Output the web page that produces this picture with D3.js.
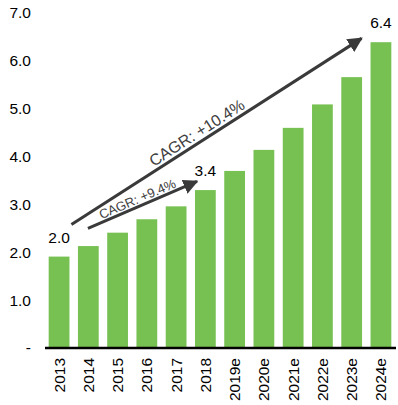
<!DOCTYPE html>
<html>
<head>
<meta charset="utf-8">
<script src="https://cdn.jsdelivr.net/npm/d3@7"></script>
<style>
  body { margin: 0; background: #fff; }
  text { font-family: "Liberation Sans", Arial, sans-serif; }
</style>
</head>
<body>
<div id="chart"></div>
<script>
// Data
const years = ["2013", "2014", "2015", "2016", "2017", "2018", "2019e", "2020e", "2021e", "2022e", "2023e", "2024e"];
const values = [1.91, 2.13, 2.41, 2.69, 2.96, 3.30, 3.70, 4.14, 4.60, 5.09, 5.66, 6.39];
const yTicks = [0, 1, 2, 3, 4, 5, 6, 7];
const valueLabels = [
    { year: "2013", text: "2.0" },
    { year: "2018", text: "3.4" },
    { year: "2024e", text: "6.4" }
];
const cagrArrows = [
    { from: "2013", fromVal: 2.58, to: "2024e", toVal: 6.47, text: "CAGR: +10.4%" },
    { from: "2014", fromVal: 2.5, to: "2018", toVal: 3.48, text: "CAGR: +9.4%" }
];

// Layout
const w = 398;
const h = 405;
const p = { left: 44, right: 2, top: 13, bottom: 57 };

const svg = d3.select("#chart")
    .append("svg")
    .attr("width", w)
    .attr("height", h);

// Scales
const xScale = d3.scaleBand()
    .domain(years)
    .range([p.left, w - p.right])
    .paddingInner(0.29)
    .paddingOuter(0.16);
const yScale = d3.scaleLinear()
    .domain([0, 7])
    .range([h - p.bottom, p.top]);

// Bars
svg.selectAll("rect.bar")
    .data(years)
    .enter()
    .append("rect")
    .attr("class", "bar")
    .attr("x", d => xScale(d))
    .attr("y", (d, i) => yScale(values[i]))
    .attr("width", xScale.bandwidth())
    .attr("height", (d, i) => yScale(0) - yScale(values[i]))
    .style("fill", "#77c152");

// Y axis labels
const yAxis = d3.axisLeft(yScale)
    .tickValues(yTicks)
    .tickSize(0)
    .tickPadding(0)
    .tickFormat(d => d === 0 ? "-" : d3.format(".1f")(d));
const gy = svg.append("g")
    .attr("transform", "translate(31,0)")
    .call(yAxis);
gy.select(".domain").remove();
gy.selectAll("text")
    .style("font-size", "15.5px")
    .style("fill", "#000");

// X axis
const xAxis = d3.axisBottom(xScale).tickSize(0).tickPadding(0);
const gx = svg.append("g")
    .attr("transform", "translate(0," + yScale(0) + ")")
    .call(xAxis);
gx.select(".domain").remove();
gx.selectAll("text")
    .attr("transform", "rotate(-90)")
    .attr("text-anchor", "end")
    .attr("x", -10)
    .attr("y", 0)
    .attr("dy", "0.35em")
    .style("font-size", "15.5px")
    .style("fill", "#000");
svg.append("line")
    .attr("x1", 45)
    .attr("x2", w - 2)
    .attr("y1", yScale(0))
    .attr("y2", yScale(0))
    .style("stroke", "#000")
    .style("stroke-width", 2.5);

// Value labels
svg.selectAll("text.val")
    .data(valueLabels)
    .enter()
    .append("text")
    .attr("class", "val")
    .attr("x", d => xScale(d.year) + xScale.bandwidth() / 2)
    .attr("y", d => yScale(values[years.indexOf(d.year)]) - 14)
    .attr("text-anchor", "middle")
    .style("font-size", "15.5px")
    .style("fill", "#000")
    .text(d => d.text);

// CAGR arrows
svg.append("defs").append("marker")
    .attr("id", "head")
    .attr("viewBox", "0 0 10 10")
    .attr("refX", 9)
    .attr("refY", 5)
    .attr("markerWidth", 5)
    .attr("markerHeight", 5)
    .attr("markerUnits", "strokeWidth")
    .attr("orient", "auto")
    .append("path")
    .attr("d", "M0,0 L10,5 L0,10 Z")
    .style("fill", "#3a3a3a");

// big arrow: 2013 -> 2024e, small arrow: 2014 -> 2018
const arrowGeom = [
    { x1: xScale("2013") + xScale.bandwidth() + 2, x2: xScale("2024e") - 9, t: 0.45, dy: -4, size: 16 },
    { x1: xScale("2014") + 10, x2: xScale("2018") + 2, t: 0.48, dy: -3, size: 13 }
];
cagrArrows.forEach((a, i) => {
    const g = arrowGeom[i];
    const y1 = yScale(a.fromVal);
    const y2 = yScale(a.toVal);
    svg.append("line")
        .attr("x1", g.x1).attr("y1", y1)
        .attr("x2", g.x2).attr("y2", y2)
        .attr("marker-end", "url(#head)")
        .style("stroke", "#3a3a3a")
        .style("stroke-width", 3);
    const ang = Math.atan2(y2 - y1, g.x2 - g.x1) * 180 / Math.PI;
    const mx = g.x1 + (g.x2 - g.x1) * g.t;
    const my = y1 + (y2 - y1) * g.t;
    svg.append("text")
        .attr("transform", `translate(${mx},${my}) rotate(${ang})`)
        .attr("text-anchor", "middle")
        .attr("y", g.dy)
        .style("font-size", g.size + "px")
        .style("fill", "#404040")
        .text(a.text);
});
</script>
</body>
</html>
